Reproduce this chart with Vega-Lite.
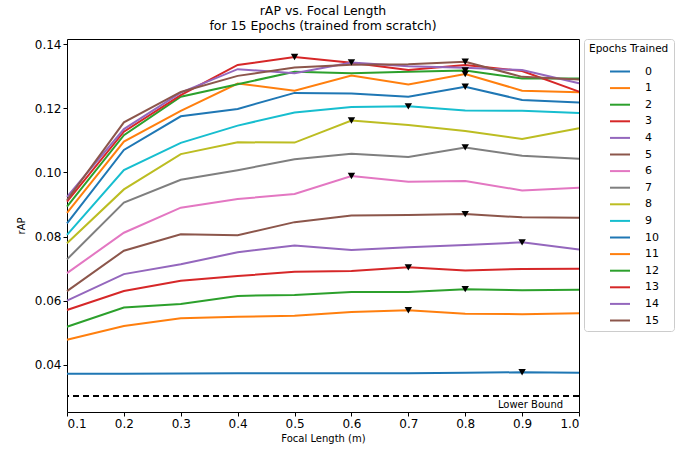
{
  "$schema": "https://vega.github.io/schema/vega-lite/v6.json",
  "width": 512,
  "height": 373,
  "autosize": "none",
  "padding": {"left": 67, "top": 39, "right": 110, "bottom": 39},
  "title": {
    "text": ["rAP vs. Focal Length", "for 15 Epochs (trained from scratch)"],
    "fontSize": 12.5,
    "fontWeight": "normal",
    "font": "DejaVu Sans",
    "color": "black",
    "anchor": "middle",
    "lineHeight": 15,
    "offset": 6
  },
  "config": {
    "font": "DejaVu Sans",
    "view": {"stroke": "black", "strokeWidth": 1},
    "axis": {
      "grid": false,
      "domain": false,
      "tickColor": "black",
      "tickSize": 4,
      "labelColor": "black",
      "labelFontSize": 12,
      "titleFontSize": 10,
      "titleFontWeight": "normal",
      "titleColor": "black"
    }
  },
  "datasets": {
    "d": [
      {"e":"0","x":0.1,"y":0.0372},{"e":"0","x":0.2,"y":0.0372},{"e":"0","x":0.3,"y":0.0373},{"e":"0","x":0.4,"y":0.0374},{"e":"0","x":0.5,"y":0.0374},{"e":"0","x":0.6,"y":0.0374},{"e":"0","x":0.7,"y":0.0374},{"e":"0","x":0.8,"y":0.0375},{"e":"0","x":0.9,"y":0.0377},{"e":"0","x":1.0,"y":0.0375},
      {"e":"1","x":0.1,"y":0.0478},{"e":"1","x":0.2,"y":0.0521},{"e":"1","x":0.3,"y":0.0545},{"e":"1","x":0.4,"y":0.0550},{"e":"1","x":0.5,"y":0.0553},{"e":"1","x":0.6,"y":0.0565},{"e":"1","x":0.7,"y":0.0570},{"e":"1","x":0.8,"y":0.0559},{"e":"1","x":0.9,"y":0.0558},{"e":"1","x":1.0,"y":0.0561},
      {"e":"2","x":0.1,"y":0.0519},{"e":"2","x":0.2,"y":0.0579},{"e":"2","x":0.3,"y":0.0590},{"e":"2","x":0.4,"y":0.0615},{"e":"2","x":0.5,"y":0.0618},{"e":"2","x":0.6,"y":0.0627},{"e":"2","x":0.7,"y":0.0627},{"e":"2","x":0.8,"y":0.0636},{"e":"2","x":0.9,"y":0.0633},{"e":"2","x":1.0,"y":0.0634},
      {"e":"3","x":0.1,"y":0.0571},{"e":"3","x":0.2,"y":0.0630},{"e":"3","x":0.3,"y":0.0662},{"e":"3","x":0.4,"y":0.0677},{"e":"3","x":0.5,"y":0.0690},{"e":"3","x":0.6,"y":0.0693},{"e":"3","x":0.7,"y":0.0704},{"e":"3","x":0.8,"y":0.0694},{"e":"3","x":0.9,"y":0.0699},{"e":"3","x":1.0,"y":0.0700},
      {"e":"4","x":0.1,"y":0.0600},{"e":"4","x":0.2,"y":0.0683},{"e":"4","x":0.3,"y":0.0714},{"e":"4","x":0.4,"y":0.0751},{"e":"4","x":0.5,"y":0.0772},{"e":"4","x":0.6,"y":0.0758},{"e":"4","x":0.7,"y":0.0767},{"e":"4","x":0.8,"y":0.0774},{"e":"4","x":0.9,"y":0.0782},{"e":"4","x":1.0,"y":0.0760},
      {"e":"5","x":0.1,"y":0.0630},{"e":"5","x":0.2,"y":0.0756},{"e":"5","x":0.3,"y":0.0807},{"e":"5","x":0.4,"y":0.0804},{"e":"5","x":0.5,"y":0.0845},{"e":"5","x":0.6,"y":0.0866},{"e":"5","x":0.7,"y":0.0867},{"e":"5","x":0.8,"y":0.0870},{"e":"5","x":0.9,"y":0.0860},{"e":"5","x":1.0,"y":0.0859},
      {"e":"6","x":0.1,"y":0.0686},{"e":"6","x":0.2,"y":0.0812},{"e":"6","x":0.3,"y":0.0890},{"e":"6","x":0.4,"y":0.0917},{"e":"6","x":0.5,"y":0.0933},{"e":"6","x":0.6,"y":0.0989},{"e":"6","x":0.7,"y":0.0971},{"e":"6","x":0.8,"y":0.0973},{"e":"6","x":0.9,"y":0.0944},{"e":"6","x":1.0,"y":0.0952},
      {"e":"7","x":0.1,"y":0.0729},{"e":"7","x":0.2,"y":0.0906},{"e":"7","x":0.3,"y":0.0977},{"e":"7","x":0.4,"y":0.1007},{"e":"7","x":0.5,"y":0.1041},{"e":"7","x":0.6,"y":0.1058},{"e":"7","x":0.7,"y":0.1048},{"e":"7","x":0.8,"y":0.1078},{"e":"7","x":0.9,"y":0.1052},{"e":"7","x":1.0,"y":0.1043},
      {"e":"8","x":0.1,"y":0.0779},{"e":"8","x":0.2,"y":0.0947},{"e":"8","x":0.3,"y":0.1057},{"e":"8","x":0.4,"y":0.1094},{"e":"8","x":0.5,"y":0.1093},{"e":"8","x":0.6,"y":0.1162},{"e":"8","x":0.7,"y":0.1148},{"e":"8","x":0.8,"y":0.1129},{"e":"8","x":0.9,"y":0.1104},{"e":"8","x":1.0,"y":0.1138},
      {"e":"9","x":0.1,"y":0.0805},{"e":"9","x":0.2,"y":0.1007},{"e":"9","x":0.3,"y":0.1092},{"e":"9","x":0.4,"y":0.1146},{"e":"9","x":0.5,"y":0.1187},{"e":"9","x":0.6,"y":0.1204},{"e":"9","x":0.7,"y":0.1206},{"e":"9","x":0.8,"y":0.1193},{"e":"9","x":0.9,"y":0.1192},{"e":"9","x":1.0,"y":0.1185},
      {"e":"10","x":0.1,"y":0.0841},{"e":"10","x":0.2,"y":0.1070},{"e":"10","x":0.3,"y":0.1175},{"e":"10","x":0.4,"y":0.1198},{"e":"10","x":0.5,"y":0.1248},{"e":"10","x":0.6,"y":0.1246},{"e":"10","x":0.7,"y":0.1236},{"e":"10","x":0.8,"y":0.1267},{"e":"10","x":0.9,"y":0.1226},{"e":"10","x":1.0,"y":0.1218},
      {"e":"11","x":0.1,"y":0.0874},{"e":"11","x":0.2,"y":0.1096},{"e":"11","x":0.3,"y":0.1192},{"e":"11","x":0.4,"y":0.1277},{"e":"11","x":0.5,"y":0.1255},{"e":"11","x":0.6,"y":0.1302},{"e":"11","x":0.7,"y":0.1274},{"e":"11","x":0.8,"y":0.1307},{"e":"11","x":0.9,"y":0.1255},{"e":"11","x":1.0,"y":0.1250},
      {"e":"12","x":0.1,"y":0.0893},{"e":"12","x":0.2,"y":0.1116},{"e":"12","x":0.3,"y":0.1236},{"e":"12","x":0.4,"y":0.1275},{"e":"12","x":0.5,"y":0.1314},{"e":"12","x":0.6,"y":0.1309},{"e":"12","x":0.7,"y":0.1314},{"e":"12","x":0.8,"y":0.1318},{"e":"12","x":0.9,"y":0.1293},{"e":"12","x":1.0,"y":0.1293},
      {"e":"13","x":0.1,"y":0.0909},{"e":"13","x":0.2,"y":0.1127},{"e":"13","x":0.3,"y":0.1241},{"e":"13","x":0.4,"y":0.1335},{"e":"13","x":0.5,"y":0.1360},{"e":"13","x":0.6,"y":0.1342},{"e":"13","x":0.7,"y":0.1319},{"e":"13","x":0.8,"y":0.1335},{"e":"13","x":0.9,"y":0.1316},{"e":"13","x":1.0,"y":0.1252},
      {"e":"14","x":0.1,"y":0.0924},{"e":"14","x":0.2,"y":0.1135},{"e":"14","x":0.3,"y":0.1249},{"e":"14","x":0.4,"y":0.1322},{"e":"14","x":0.5,"y":0.1309},{"e":"14","x":0.6,"y":0.1343},{"e":"14","x":0.7,"y":0.1331},{"e":"14","x":0.8,"y":0.1326},{"e":"14","x":0.9,"y":0.1319},{"e":"14","x":1.0,"y":0.1278},
      {"e":"15","x":0.1,"y":0.0914},{"e":"15","x":0.2,"y":0.1156},{"e":"15","x":0.3,"y":0.1251},{"e":"15","x":0.4,"y":0.1301},{"e":"15","x":0.5,"y":0.1327},{"e":"15","x":0.6,"y":0.1336},{"e":"15","x":0.7,"y":0.1337},{"e":"15","x":0.8,"y":0.1345},{"e":"15","x":0.9,"y":0.1298},{"e":"15","x":1.0,"y":0.1290}
    ],
    "lb": [{"y": 0.0303, "label": "Lower Bound", "lx": 0.972, "ly": 0.0276}]
  },
  "layer": [
    {
      "data": {"name": "d"},
      "mark": {"type": "line", "strokeWidth": 2},
      "encoding": {
        "x": {"field": "x", "type": "quantitative", "title": "Focal Length (m)",
              "scale": {"domain": [0.1, 1.0], "nice": false, "zero": false},
              "axis": {"values": [0.1,0.2,0.3,0.4,0.5,0.6,0.7,0.8,0.9,1.0], "format": ".1f", "titlePadding": 4}},
        "y": {"field": "y", "type": "quantitative", "title": "rAP",
              "scale": {"domain": [0.0253, 0.1416], "nice": false, "zero": false},
              "axis": {"values": [0.04,0.06,0.08,0.10,0.12,0.14], "format": ".2f", "titlePadding": 8}},
        "color": {"field": "e", "type": "nominal", "title": "Epochs Trained",
                  "scale": {"domain": ["0","1","2","3","4","5","6","7","8","9","10","11","12","13","14","15"],
                            "range": ["#1f77b4","#ff7f0e","#2ca02c","#d62728","#9467bd","#8c564b","#e377c2","#7f7f7f","#bcbd22","#17becf","#1f77b4","#ff7f0e","#2ca02c","#d62728","#9467bd","#8c564b"]},
                  "legend": {"symbolType": "stroke", "symbolStrokeWidth": 2, "symbolSize": 400, "rowPadding": 0.6,
                             "symbolOffset": 20, "labelOffset": 14,
                             "labelFontSize": 11, "titleFontSize": 10.5, "titleFontWeight": "normal", "labelColor": "black", "titleColor": "black",
                             "strokeColor": "#cccccc", "cornerRadius": 3, "padding": 5, "offset": 1, "fillColor": "white", "titlePadding": 6}}
      }
    },
    {
      "data": {"name": "d"},
      "transform": [
        {"joinaggregate": [{"op": "max", "field": "y", "as": "maxy"}], "groupby": ["e"]},
        {"filter": "datum.y == datum.maxy"}
      ],
      "mark": {"type": "point", "shape": "triangle-down", "filled": true, "color": "black", "size": 55, "opacity": 1},
      "encoding": {
        "x": {"field": "x", "type": "quantitative"},
        "y": {"field": "y", "type": "quantitative"}
      }
    },
    {
      "data": {"name": "lb"},
      "mark": {"type": "rule", "color": "black", "strokeWidth": 2, "strokeDash": [6, 4]},
      "encoding": {"y": {"field": "y", "type": "quantitative"}}
    },
    {
      "data": {"name": "lb"},
      "mark": {"type": "text", "align": "right", "baseline": "middle", "fontSize": 10, "color": "black"},
      "encoding": {
        "x": {"field": "lx", "type": "quantitative"},
        "y": {"field": "ly", "type": "quantitative"},
        "text": {"field": "label"}
      }
    }
  ]
}
